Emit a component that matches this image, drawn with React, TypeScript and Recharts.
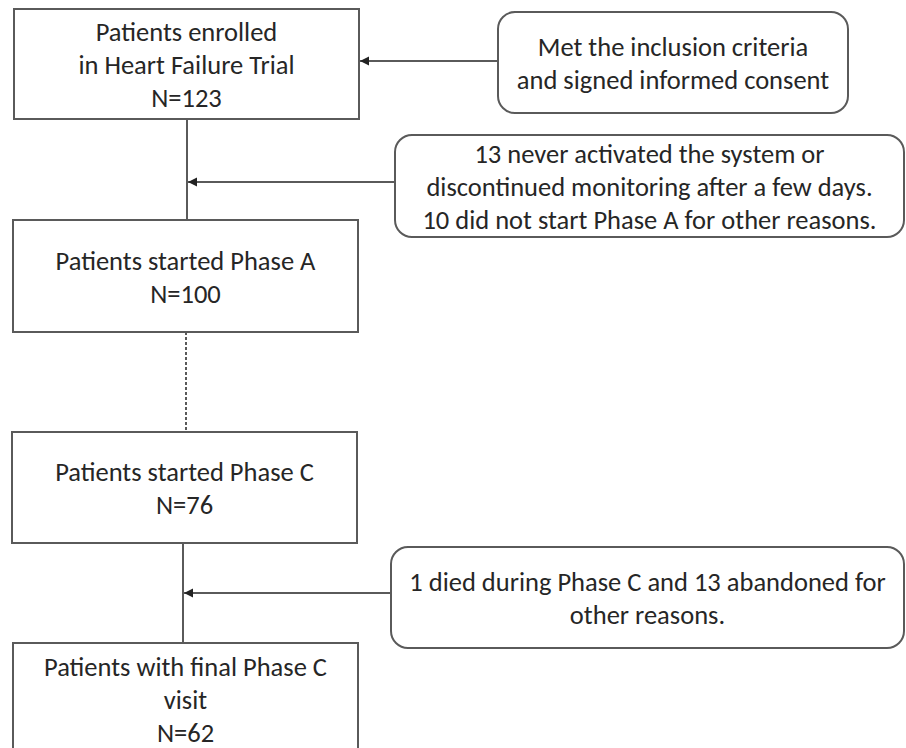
import { ScatterChart, Scatter, XAxis, YAxis, ReferenceArea, ReferenceLine, ReferenceDot } from 'recharts';

// flow stages (left column)
const stageTitles = [
  ['Patients enrolled', 'in Heart Failure Trial'],
  ['Patients started Phase A'],
  ['Patients started Phase C'],
  ['Patients with final Phase C', 'visit'],
];
const stageCounts = [123, 100, 76, 62];

// side notes (right column)
const noteLines = [
  ['Met the inclusion criteria', 'and signed informed consent'],
  [
    '13 never activated the system or',
    'discontinued monitoring after a few days.',
    '10 did not start Phase A for other reasons.',
  ],
  ['1 died during Phase C and 13 abandoned for', 'other reasons.'],
];

// layout, in chart units (1 unit = 1px)
const stageBoxes = [
  { x1: 14, x2: 359, y1: 9, y2: 119 },
  { x1: 13, x2: 358, y1: 220, y2: 332 },
  { x1: 12, x2: 357, y1: 432, y2: 543 },
  { x1: 13, x2: 358, y1: 643, y2: 755 },
];
const noteBoxes = [
  { x1: 498, x2: 848, y1: 12, y2: 113 },
  { x1: 395, x2: 904, y1: 135, y2: 237 },
  { x1: 391, x2: 904, y1: 547, y2: 648 },
];
const connectors = [
  { from: { x: 187, y: 119 }, to: { x: 187, y: 220 }, dashed: false },
  { from: { x: 186, y: 332 }, to: { x: 186, y: 432 }, dashed: true },
  { from: { x: 183, y: 543 }, to: { x: 183, y: 643 }, dashed: false },
];
const arrows = [
  { from: { x: 498, y: 61 }, to: { x: 360, y: 61 } },
  { from: { x: 395, y: 182 }, to: { x: 188, y: 182 } },
  { from: { x: 391, y: 593 }, to: { x: 184, y: 593 } },
];

const FONT = 'Carlito, Lato, "Open Sans", sans-serif';
const TEXT = '#262626';
const EDGE = '#5a5a5a';
const LINE_H = 33;

const boxShape = (lines: string[], radius: number) => (props: any) => {
  const { x, y, width, height } = props;
  const cx = x + width / 2;
  const cy = y + height / 2 + 1;
  const start = cy - ((lines.length - 1) * LINE_H) / 2;
  return (
    <g>
      <rect x={x} y={y} width={width} height={height} rx={radius} ry={radius} fill="#fff" stroke={EDGE} strokeWidth={2} />
      <text textAnchor="middle" fontFamily={FONT} fontSize={26.5} fill={TEXT}>
        {lines.map((l, i) => (
          <tspan key={i} x={cx} y={start + i * LINE_H} dominantBaseline="central">
            {l}
          </tspan>
        ))}
      </text>
    </g>
  );
};

const arrowHead = (props: any) => {
  const { cx, cy } = props;
  return <polygon points={`${cx},${cy} ${cx + 9},${cy - 4.5} ${cx + 9},${cy + 4.5}`} fill="#222" />;
};

export default function App() {
  return (
    <div style={{ position: 'absolute', left: 0, top: 0, width: 906, height: 748, background: '#fff' }}>
      <ScatterChart width={906} height={748} margin={{ top: 0, right: 0, bottom: 0, left: 0 }}>
        <XAxis type="number" dataKey="x" domain={[0, 906]} hide allowDataOverflow />
        <YAxis type="number" dataKey="y" domain={[0, 748]} reversed hide allowDataOverflow />
        <Scatter data={[]} isAnimationActive={false} />

        {connectors.map((c, i) => (
          <ReferenceLine
            key={`c${i}`}
            segment={[c.from, c.to]}
            stroke={EDGE}
            strokeWidth={2}
            strokeDasharray={c.dashed ? '3 2' : undefined}
            ifOverflow="visible"
          />
        ))}
        {arrows.map((a, i) => (
          <ReferenceLine key={`a${i}`} segment={[a.from, a.to]} stroke={EDGE} strokeWidth={2} ifOverflow="visible" />
        ))}
        {arrows.map((a, i) => (
          <ReferenceDot key={`h${i}`} x={a.to.x} y={a.to.y} r={5} shape={arrowHead} ifOverflow="visible" />
        ))}

        {stageBoxes.map((b, i) => (
          <ReferenceArea
            key={`s${i}`}
            {...b}
            ifOverflow="visible"
            shape={boxShape([...stageTitles[i], `N=${stageCounts[i]}`], 0)}
          />
        ))}
        {noteBoxes.map((b, i) => (
          <ReferenceArea key={`n${i}`} {...b} ifOverflow="visible" shape={boxShape(noteLines[i], 17)} />
        ))}
      </ScatterChart>
    </div>
  );
}
